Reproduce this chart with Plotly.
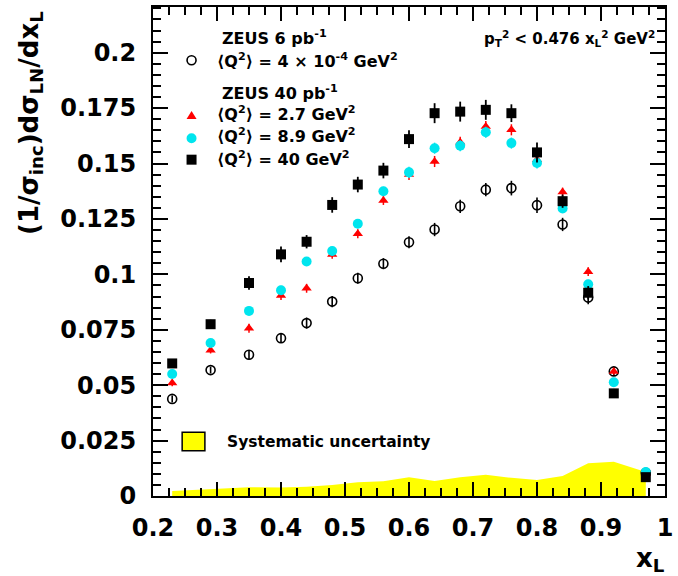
import plotly.graph_objects as go

# ---------------- data ----------------
x_L = [0.23, 0.29, 0.35, 0.40, 0.44, 0.48, 0.52, 0.56, 0.60, 0.64, 0.68, 0.72, 0.76, 0.80, 0.84, 0.88, 0.92, 0.97]

# ZEUS 6 pb-1, <Q2> = 4e-4 GeV2 (photoproduction)
photo_val = [0.0438, 0.0568, 0.0637, 0.0712, 0.0780, 0.0877, 0.0982, 0.1048, 0.1145, 0.1202, 0.1307, 0.1382, 0.1389, 0.1312, 0.1225, 0.0895, 0.0562, 0.0105]
photo_err = [0.0015, 0.0015, 0.002, 0.002, 0.0025, 0.0025, 0.0025, 0.0025, 0.0027, 0.003, 0.003, 0.003, 0.0033, 0.0035, 0.003, 0.003, 0.002, 0.001]

# ZEUS 40 pb-1
q27_val = [0.0510, 0.0658, 0.0757, 0.0904, 0.0937, 0.1090, 0.1183, 0.1333, 0.1450, 0.1509, 0.1596, 0.1667, 0.1652, 0.1517, 0.1371, 0.1012, 0.0562, 0.0100]
q89_val = [0.0550, 0.0690, 0.0835, 0.0928, 0.1058, 0.1105, 0.1228, 0.1375, 0.1460, 0.1569, 0.1580, 0.1641, 0.1592, 0.1502, 0.1297, 0.0955, 0.0513, 0.0108]
q40_val = [0.0598, 0.0775, 0.0961, 0.1090, 0.1147, 0.1313, 0.1405, 0.1468, 0.1610, 0.1727, 0.1734, 0.1742, 0.1727, 0.1550, 0.1330, 0.0917, 0.0463, 0.0085]
dis_err = [0.0015, 0.0015, 0.002, 0.002, 0.002, 0.002, 0.002, 0.002, 0.0025, 0.0025, 0.0025, 0.0025, 0.0025, 0.0025, 0.002, 0.002, 0.0015, 0.001]
q40_err = [0.002, 0.002, 0.003, 0.0035, 0.003, 0.0035, 0.0035, 0.0035, 0.004, 0.0045, 0.0045, 0.0045, 0.004, 0.0045, 0.003, 0.003, 0.002, 0.001]

# systematic uncertainty band
syst_x = [0.23, 0.29, 0.35, 0.40, 0.44, 0.48, 0.52, 0.56, 0.60, 0.64, 0.68, 0.72, 0.76, 0.80, 0.84, 0.88, 0.92, 0.97]
syst_y = [0.0022, 0.0030, 0.0040, 0.0038, 0.0042, 0.0050, 0.0062, 0.0066, 0.0085, 0.0068, 0.0085, 0.0096, 0.0082, 0.0072, 0.0090, 0.0148, 0.0155, 0.0108]

x_tickvals = [0.2, 0.3, 0.4, 0.5, 0.6, 0.7, 0.8, 0.9, 1.0]
x_ticktext = ["0.2", "0.3", "0.4", "0.5", "0.6", "0.7", "0.8", "0.9", "1"]
y_tickvals = [0, 0.025, 0.05, 0.075, 0.1, 0.125, 0.15, 0.175, 0.2]
y_ticktext = ["0", "0.025", "0.05", "0.075", "0.1", "0.125", "0.15", "0.175", "0.2"]

legend_labels = [
    "⟨Q<sup>2</sup>⟩ = 4 × 10<sup>-4</sup> GeV<sup>2</sup>",
    "⟨Q<sup>2</sup>⟩ = 2.7 GeV<sup>2</sup>",
    "⟨Q<sup>2</sup>⟩ = 8.9 GeV<sup>2</sup>",
    "⟨Q<sup>2</sup>⟩ = 40 GeV<sup>2</sup>",
]

# ---------------- layout helpers ----------------
W, H = 678, 576
ML, MR, MT, MB = 153, 7, 5, 80
PW, PH = W - ML - MR, H - MT - MB
XR = [0.2, 1.0]
YR = [0, 0.2206]


def px(x):
    return (x - ML) / PW


def py(y):
    return (H - MB - y) / PH


FONT = "DejaVu Sans"
BOLD = dict(family=FONT, color="black", weight="bold")

fig = go.Figure()

# empty trace so that the mirrored top/right axes get drawn
fig.add_trace(go.Scatter(x=[None], y=[None], xaxis="x2", yaxis="y2", mode="markers",
                         showlegend=False, hoverinfo="skip"))

fig.add_trace(go.Scatter(x=syst_x, y=syst_y, mode="lines", fill="tozeroy",
                         line=dict(width=0, color="#ffff00"), fillcolor="#ffff00",
                         hoverinfo="skip", showlegend=False))

fig.add_trace(go.Scatter(x=x_L, y=photo_val, mode="markers", showlegend=False,
                         marker=dict(symbol="circle-open", size=9, color="black", line=dict(width=1.6)),
                         error_y=dict(type="data", array=photo_err, color="black", thickness=1.6, width=0)))
fig.add_trace(go.Scatter(x=x_L, y=q27_val, mode="markers", showlegend=False,
                         marker=dict(symbol="triangle-up", size=9, color="#ff0000"),
                         error_y=dict(type="data", array=dis_err, color="#ff0000", thickness=1.5, width=0)))
fig.add_trace(go.Scatter(x=x_L, y=q89_val, mode="markers", showlegend=False,
                         marker=dict(symbol="circle", size=10, color="#00e5ee"),
                         error_y=dict(type="data", array=dis_err, color="#00e5ee", thickness=1.5, width=0)))
fig.add_trace(go.Scatter(x=x_L, y=q40_val, mode="markers", showlegend=False,
                         marker=dict(symbol="square", size=10, color="black"),
                         error_y=dict(type="data", array=q40_err, color="black", thickness=1.8, width=0)))

axis_common = dict(showgrid=False, zeroline=False, showline=True, linecolor="black", linewidth=2,
                   ticks="inside", tickcolor="black", tickwidth=1.5,
                   tickfont=dict(size=24, **BOLD))
xminor = dict(dtick=0.025, tick0=0.2, ticks="inside", ticklen=8, tickwidth=1.5,
              tickcolor="black", showgrid=False)
yminor = dict(dtick=0.005, tick0=0, ticks="inside", ticklen=8, tickwidth=1.5,
              tickcolor="black", showgrid=False)

fig.update_layout(
    xaxis=dict(range=XR, tickmode="array", tickvals=x_tickvals, ticktext=x_ticktext, ticklen=14,
               ticklabelstandoff=9, ticklabeloverflow="allow", minor=xminor, mirror=True, **axis_common),
    yaxis=dict(range=YR, tickmode="array", tickvals=y_tickvals, ticktext=y_ticktext, ticklen=15,
               ticklabelstandoff=10, ticklabeloverflow="allow", minor=yminor, mirror=True, **axis_common),
    xaxis2=dict(range=XR, overlaying="x", side="top", anchor="y2", tickmode="array",
                tickvals=x_tickvals, ticklen=14, showticklabels=False, minor=xminor, **axis_common),
    yaxis2=dict(range=YR, overlaying="y", side="right", anchor="x2", tickmode="array",
                tickvals=y_tickvals, ticklen=15, showticklabels=False, minor=yminor, **axis_common),
)

ann = []
ann.append(dict(text="(1/σ<sub>inc</sub>)dσ<sub>LN</sub>/dx<sub>L</sub>", x=px(29), y=py(121),
                textangle=-90, font=dict(size=26, **BOLD)))
ann.append(dict(text="x<sub>L</sub>", x=px(656), y=py(560), font=dict(size=26, **BOLD)))
ann.append(dict(text="p<sub>T</sub><sup>2</sup> &lt; 0.476 x<sub>L</sub><sup>2</sup> GeV<sup>2</sup>",
                x=px(663), y=py(37), xanchor="right", font=dict(size=15, **BOLD)))
ann.append(dict(text="ZEUS 6 pb<sup>-1</sup>", x=px(221), y=py(36), xanchor="left", font=dict(size=16, **BOLD)))
ann.append(dict(text="ZEUS 40 pb<sup>-1</sup>", x=px(221), y=py(91), xanchor="left", font=dict(size=16, **BOLD)))
leg_y = [59, 112, 134.5, 157]
for lab, yy in zip(legend_labels, leg_y):
    ann.append(dict(text=lab, x=px(216), y=py(yy), xanchor="left", font=dict(size=16, **BOLD)))
ann.append(dict(text="Systematic uncertainty", x=px(226), y=py(442), xanchor="left",
                font=dict(size=15.5, **BOLD)))
for a in ann:
    a.setdefault("xanchor", "center")
    a.update(xref="paper", yref="paper", yanchor="middle", showarrow=False)

shapes = []
mk = dict(xref="paper", yref="paper", xsizemode="pixel", ysizemode="pixel")
shapes.append(dict(type="circle", xanchor=px(192), yanchor=py(58.5), x0=-4.5, x1=4.5, y0=-4.5, y1=4.5,
                   line=dict(color="black", width=1.6), **mk))
shapes.append(dict(type="path", xanchor=px(192), yanchor=py(114), path="M-5,-3.5 L5,-3.5 L0,4.5 Z",
                   fillcolor="#ff0000", line=dict(width=0), **mk))
shapes.append(dict(type="circle", xanchor=px(192), yanchor=py(136.7), x0=-5, x1=5, y0=-5, y1=5,
                   fillcolor="#00e5ee", line=dict(width=0), **mk))
shapes.append(dict(type="rect", xanchor=px(192), yanchor=py(158.3), x0=-5, x1=5, y0=-5, y1=5,
                   fillcolor="black", line=dict(width=0), **mk))
shapes.append(dict(type="rect", xref="paper", yref="paper", x0=px(182.5), x1=px(205.5), y0=py(450.5), y1=py(432),
                   fillcolor="#ffff00", line=dict(color="black", width=1.5)))

fig.update_layout(width=W, height=H, margin=dict(l=ML, r=MR, t=MT, b=MB),
                  paper_bgcolor="white", plot_bgcolor="white", showlegend=False,
                  annotations=ann, shapes=shapes)

fig.write_html("out.html")
